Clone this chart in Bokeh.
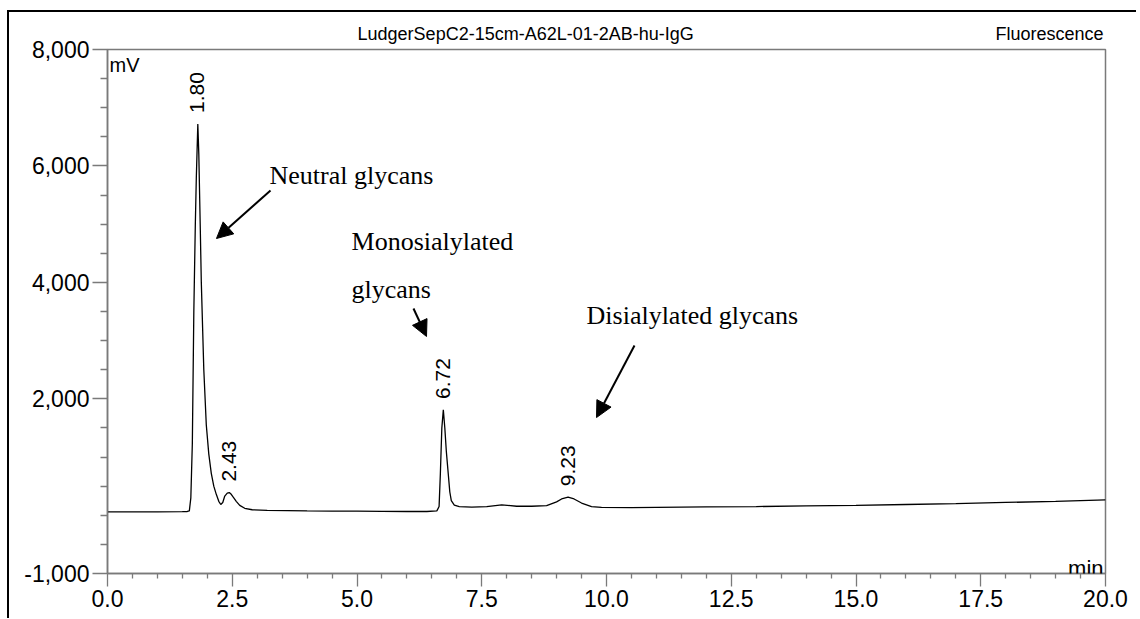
from bokeh.plotting import figure
from bokeh.models import FixedTicker, NumeralTickFormatter, Label, Arrow, NormalHead, LinearAxis
from bokeh.embed import file_html
from bokeh.resources import INLINE

# ---- data ----
time_min = [0.0, 0.5, 1.0, 1.5, 1.6, 1.64, 1.67, 1.70, 1.73, 1.76, 1.78, 1.81, 1.83, 1.86,
            1.88, 1.93, 1.98, 2.03, 2.08, 2.13, 2.18, 2.23, 2.27, 2.31, 2.35, 2.40, 2.44,
            2.48, 2.52, 2.58, 2.65, 2.75, 2.9, 3.2, 3.6, 4.0, 4.5, 5.0, 5.5, 6.0, 6.4,
            6.60, 6.645, 6.67, 6.70, 6.73, 6.76, 6.79, 6.82, 6.86, 6.89, 6.95, 7.05, 7.3,
            7.6, 7.9, 8.2, 8.5, 8.8, 9.0, 9.1, 9.23, 9.35, 9.5, 9.7, 9.9, 10.5, 11.0,
            12.0, 13.0, 14.0, 15.0, 16.0, 17.0, 18.0, 19.0, 20.0]
signal_mv = [60, 60, 60, 62, 65, 75, 300, 1230, 3500, 5000, 5800, 6720, 6200, 4900,
             4000, 2500, 1550, 1050, 720, 500, 360, 240, 185, 220, 330, 380, 390,
             360, 310, 240, 170, 120, 95, 85, 80, 75, 72, 70, 68, 65, 65,
             75, 150, 700, 1500, 1810, 1500, 1100, 800, 400, 250, 175, 150, 140,
             150, 180, 155, 155, 165, 230, 280, 310, 280, 210, 150, 135, 130, 135,
             145, 150, 160, 170, 185, 200, 220, 240, 265]

peak_times = [1.80, 2.43, 6.72, 9.23]
peak_heights = [6720, 390, 1810, 310]

x_major = [0.0, 2.5, 5.0, 7.5, 10.0, 12.5, 15.0, 17.5, 20.0]
x_minor = [0.5, 1.0, 1.5, 2.0, 3.0, 3.5, 4.0, 4.5, 5.5, 6.0, 6.5, 7.0, 8.0, 8.5, 9.0, 9.5,
           10.5, 11.0, 11.5, 12.0, 13.0, 13.5, 14.0, 14.5, 15.5, 16.0, 16.5, 17.0,
           18.0, 18.5, 19.0, 19.5]
y_major = [-1000, 2000, 4000, 6000, 8000]
y_minor = [-500, 0, 500, 1000, 1500, 2500, 3000, 3500, 4500, 5000, 5500, 6500, 7000, 7500]

header_texts = ["LudgerSepC2-15cm-A62L-01-2AB-hu-IgG", "Fluorescence"]
header_centres = [8.38, 18.88]

GRAY = "#7a7a7a"
SANS = "Liberation Sans"
SERIF = "Liberation Serif"

p = figure(x_range=(0, 20), y_range=(-1000, 8000),
           frame_width=998, frame_height=524,
           min_border_left=98, min_border_top=37, min_border_right=31, min_border_bottom=45,
           output_backend="svg", toolbar_location=None)
p.margin = (10, 0, 0, 7)
p.styles = {"border-top": "2px solid black", "border-left": "2px solid black"}
p.grid.visible = False
p.outline_line_color = GRAY
p.outline_line_width = 1.5
p.background_fill_color = "white"
p.border_fill_color = "white"

xa = p.xaxis[0]
xa.ticker = FixedTicker(ticks=x_major, minor_ticks=x_minor)
xa.formatter = NumeralTickFormatter(format="0.0")
ya = p.yaxis[0]
ya.ticker = FixedTicker(ticks=y_major, minor_ticks=y_minor)
ya.formatter = NumeralTickFormatter(format="0,0")

for ax, maj, mino in ((xa, 13, 5), (ya, 15, 7)):
    ax.axis_line_color = GRAY
    ax.axis_line_width = 1.5
    ax.major_tick_line_color = GRAY
    ax.minor_tick_line_color = GRAY
    ax.major_tick_line_width = 1.3
    ax.minor_tick_line_width = 1.3
    ax.major_tick_in = 0
    ax.major_tick_out = maj
    ax.minor_tick_in = 0
    ax.minor_tick_out = mino
    ax.major_label_text_font = SANS
    ax.major_label_text_font_size = "23px"
    ax.major_label_text_color = "black"
    ax.major_label_standoff = 3

# header line (sample name and detector channel) as an unlined axis above the frame
top_axis = LinearAxis(ticker=FixedTicker(ticks=header_centres, minor_ticks=[]),
                      major_label_overrides={c: t for c, t in zip(header_centres, header_texts)},
                      axis_line_color=None, major_tick_line_color=None,
                      minor_tick_line_color=None, major_tick_in=0, major_tick_out=0,
                      major_label_standoff=6, major_label_text_font=SANS,
                      major_label_text_font_size="18px", major_label_text_color="black")
p.add_layout(top_axis, "above")

p.line(time_min, signal_mv, line_color="black", line_width=1.3)

# peak retention-time labels
for t, h in zip(peak_times, peak_heights):
    p.add_layout(Label(x=t, y=h, text=f"{t:.2f}", angle=90, angle_units="deg",
                       text_align="left", text_baseline="middle", y_offset=11,
                       text_font=SANS, text_font_size="21px", text_color="black"))

# axis unit labels
p.add_layout(Label(x=0, y=8000, text="mV", x_offset=2, y_offset=-4, text_baseline="top",
                   text_font=SANS, text_font_size="20px", text_color="black"))
p.add_layout(Label(x=20, y=-1000, text="min", x_offset=-2, y_offset=5, text_align="right",
                   text_baseline="alphabetic", text_font=SANS, text_font_size="22px",
                   text_color="black"))

# group annotations
notes = [("Neutral glycans", 3.246, 5836), ("Monosialylated", 4.89, 4702),
         ("glycans", 4.89, 3878), ("Disialylated glycans", 9.60, 3431)]
for txt, x, y in notes:
    p.add_layout(Label(x=x, y=y, text=txt, text_baseline="alphabetic",
                       text_font=SERIF, text_font_size="26px", text_color="black"))

arrows = [(3.267, 5578, 2.184, 4754), (6.132, 3552, 6.393, 3071), (10.561, 2916, 9.800, 1679)]
for xs, ys, xe, ye in arrows:
    p.add_layout(Arrow(end=NormalHead(size=16, fill_color="black", line_color="black"),
                       x_start=xs, y_start=ys, x_end=xe, y_end=ye,
                       line_color="black", line_width=2))

open("out.html", "w").write(file_html(p, INLINE))
